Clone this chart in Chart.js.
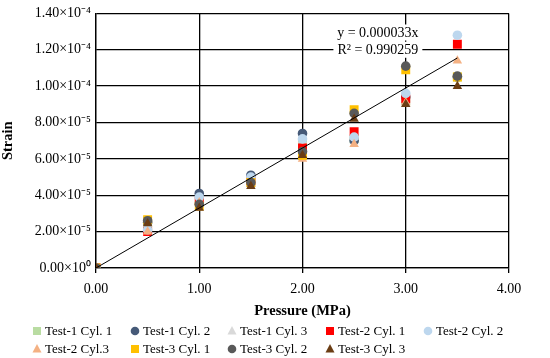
<!DOCTYPE html>
<html>
<head>
<meta charset="utf-8">
<script src="https://cdn.jsdelivr.net/npm/chart.js@4/dist/chart.umd.min.js"></script>
<style>
  body { margin: 0; background: #fff; }
</style>
</head>
<body>
<canvas id="grafico" width="550" height="358"></canvas>
<script>
// pressure steps (MPa)
var pressao = [0, 0.5, 1, 1.5, 2, 2.5, 3, 3.5];

// strain per cylinder
var t1c1 = [0, 2.2e-5, 3.7e-5, 4.8e-5, 6.8e-5, 7.1e-5, 9.2e-5, 1.05e-4];
var t1c2 = [0, 2.5e-5, 4.1e-5, 5.1e-5, 7.4e-5, 7.0e-5, 9.4e-5, 1.05e-4];
var t1c3 = [0, 2.4e-5, 3.8e-5, 4.9e-5, 7.0e-5, 7.2e-5, 9.3e-5, 1.05e-4];
var t2c1 = [0, 2.0e-5, 3.7e-5, 4.8e-5, 6.6e-5, 7.5e-5, 9.3e-5, 1.23e-4];
var t2c2 = [0, 2.1e-5, 3.9e-5, 5.0e-5, 7.1e-5, 7.2e-5, 9.6e-5, 1.28e-4];
var t2c3 = [0, 2.0e-5, 3.6e-5, 4.6e-5, 6.0e-5, 6.8e-5, 9.1e-5, 1.14e-4];
var t3c1 = [0, 2.65e-5, 3.4e-5, 4.7e-5, 6.2e-5, 8.7e-5, 1.09e-4, 1.05e-4];
var t3c2 = [0, 2.6e-5, 3.5e-5, 4.7e-5, 6.4e-5, 8.5e-5, 1.11e-4, 1.055e-4];
var t3c3 = [0, 2.45e-5, 3.3e-5, 4.5e-5, 6.2e-5, 8.2e-5, 9.0e-5, 1.0e-4];

var nomes = ['Test-1 Cyl. 1', 'Test-1 Cyl. 2', 'Test-1 Cyl. 3', 'Test-2 Cyl. 1', 'Test-2 Cyl. 2',
             'Test-2 Cyl.3', 'Test-3 Cyl. 1', 'Test-3 Cyl. 2', 'Test-3 Cyl. 3'];
var series = [t1c1, t1c2, t1c3, t2c1, t2c2, t2c3, t3c1, t3c2, t3c3];
var cores = ['#b9dca2', '#465a78', '#d9d9d9', '#ff0000', '#bdd7ee', '#f4b183', '#ffc000', '#595959', '#6b3d14'];
var estilos = ['rect', 'circle', 'triangle', 'rect', 'circle', 'triangle', 'rect', 'circle', 'triangle'];

// linear trend shown on the chart
var tendX = [0, 3.5];
var inclinacao = 0.000033;
var textoTend = ['y = 0.000033x', 'R\u00b2 = 0.990259'];

var xTicks = ['0.00', '1.00', '2.00', '3.00', '4.00'];
var yTicks = ['0.00\u00d710\u2070', '2.00\u00d710\u207b\u2075', '4.00\u00d710\u207b\u2075', '6.00\u00d710\u207b\u2075',
              '8.00\u00d710\u207b\u2075', '1.00\u00d710\u207b\u2074', '1.20\u00d710\u207b\u2074', '1.40\u00d710\u207b\u2074'];

Chart.defaults.font.family = 'Liberation Serif';
Chart.defaults.font.size = 14;
Chart.defaults.color = '#000';

var sets = [];
for (var i = 0; i < series.length; i++) {
    var pts = [];
    for (var k = 0; k < pressao.length; k++) {
        pts.push({x: pressao[k], y: series[i][k]});
    }
    var raio = 4.8;
    if (estilos[i] == 'rect') raio = 6.3;
    if (estilos[i] == 'triangle') raio = 5.5;
    sets.push({
        label: nomes[i],
        data: pts,
        pointStyle: estilos[i],
        pointRadius: raio,
        pointHoverRadius: raio,
        backgroundColor: cores[i],
        borderColor: cores[i],
        borderWidth: 0,
        showLine: false,
        order: 20 - i
    });
}

sets.push({
    label: 'trend',
    type: 'line',
    data: [{x: tendX[0], y: inclinacao * tendX[0]}, {x: tendX[1], y: inclinacao * tendX[1]}],
    borderColor: '#000',
    borderWidth: 1,
    pointRadius: 0,
    fill: false,
    order: 0
});

// legend in a grid, like the original
var legendaGrade = {
    id: 'legendaGrade',
    afterDraw: function(chart) {
        var ctx = chart.ctx;
        var colX = [45, 143, 240, 338, 436];
        var rowY = [331, 349];
        ctx.save();
        ctx.font = '13px "Liberation Serif"';
        ctx.textBaseline = 'middle';
        ctx.textAlign = 'left';
        for (var i = 0; i < nomes.length; i++) {
            var x = colX[i % 5];
            var y = rowY[Math.floor(i / 5)];
            var mx = x - 8;
            ctx.fillStyle = cores[i];
            ctx.beginPath();
            if (estilos[i] == 'rect') {
                ctx.rect(mx - 4, y - 4, 8, 8);
            } else if (estilos[i] == 'circle') {
                ctx.arc(mx, y, 4.3, 0, Math.PI * 2);
            } else {
                ctx.moveTo(mx, y - 5);
                ctx.lineTo(mx + 4.5, y + 3.5);
                ctx.lineTo(mx - 4.5, y + 3.5);
                ctx.closePath();
            }
            ctx.fill();
            ctx.fillStyle = '#000';
            ctx.fillText(nomes[i], x, y + 1);
        }
        ctx.restore();
    }
};

var rotuloTend = {
    id: 'rotuloTend',
    afterDatasetsDraw: function(chart) {
        var ctx = chart.ctx;
        var xs = chart.scales.x;
        var ys = chart.scales.y;
        var cx = xs.getPixelForValue(2.73);
        var linhas = [ys.getPixelForValue(1.295e-4), ys.getPixelForValue(1.2e-4)];
        ctx.save();
        ctx.font = '14px "Liberation Serif"';
        ctx.textAlign = 'center';
        ctx.textBaseline = 'middle';
        for (var i = 0; i < textoTend.length; i++) {
            var w = ctx.measureText(textoTend[i]).width;
            ctx.fillStyle = '#fff';
            ctx.fillRect(cx - w / 2 - 4, linhas[i] - 8, w + 8, 16);
            ctx.fillStyle = '#000';
            ctx.fillText(textoTend[i], cx, linhas[i] + 1);
        }
        ctx.restore();
    }
};

var $canvas = document.getElementById('grafico').getContext('2d');
var grafico = new Chart($canvas, {
    type: 'scatter',
    data: { datasets: sets },
    plugins: [legendaGrade, rotuloTend],
    options: {
        responsive: false,
        animation: false,
        layout: { padding: { left: 0, right: 41, top: 10, bottom: 38 } },
        plugins: {
            legend: { display: false },
            tooltip: { enabled: false }
        },
        scales: {
            x: {
                type: 'linear',
                min: 0,
                max: 4,
                afterFit: function(scale) { scale.height = 52; },
                ticks: {
                    stepSize: 1,
                    padding: 8,
                    maxRotation: 0,
                    callback: function(v, idx) { return xTicks[idx]; }
                },
                grid: { color: '#000', lineWidth: 1.3, tickLength: 5 },
                border: { color: '#000', width: 1.3 },
                title: {
                    display: true,
                    text: 'Pressure (MPa)',
                    font: { size: 14.5, weight: 'bold' },
                    padding: { top: 0, bottom: 0 }
                }
            },
            y: {
                type: 'linear',
                min: 0,
                max: 1.4e-4,
                afterFit: function(scale) { scale.width = 96; },
                ticks: {
                    stepSize: 2e-5,
                    padding: 5,
                    callback: function(v, idx) { return yTicks[idx]; }
                },
                grid: { color: '#000', lineWidth: 1.3, drawTicks: false },
                border: { color: '#000', width: 1.3 },
                title: {
                    display: true,
                    text: 'Strain',
                    font: { size: 14.5, weight: 'bold' },
                    padding: { top: 0, bottom: 0 }
                }
            }
        }
    }
});
</script>
</body>
</html>
